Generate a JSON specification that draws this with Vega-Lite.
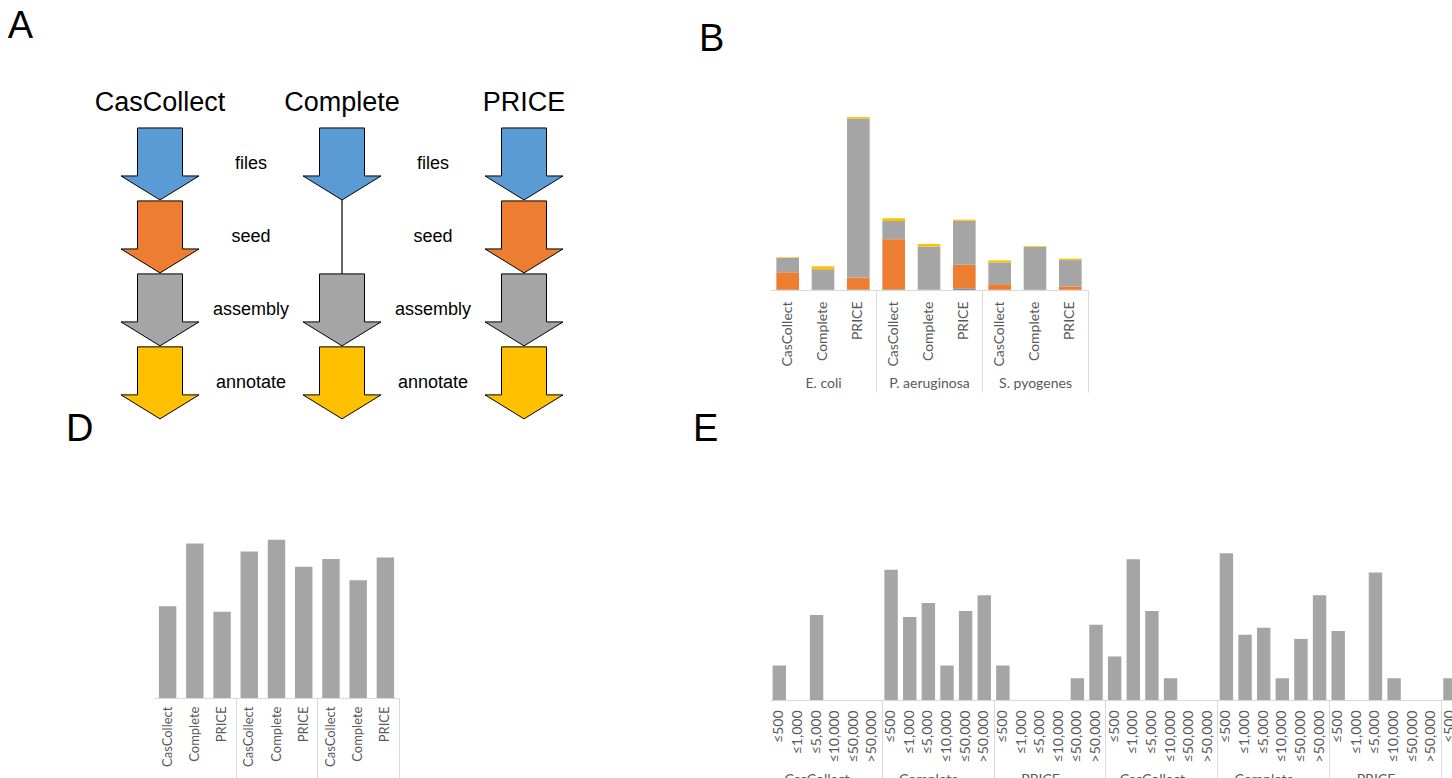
{
  "$schema": "https://vega.github.io/schema/vega-lite/v6.json",
  "padding": {"left": 7, "top": 7, "right": 0, "bottom": 0},
  "columns": 3,
  "bounds": "flush",
  "align": {"row": "each", "column": "none"},
  "spacing": {"row": 60, "column": 97},
  "config": {"view": {"stroke": null}},
  "concat": [
    {
      "width": 519,
      "height": 328,
      "title": {"text": "A", "dx": -87, "anchor": "start", "font": "Liberation Sans", "fontSize": 38, "fontWeight": "normal", "color": "#000000", "baseline": "alphabetic", "offset": 13},
      "layer": [
        {
          "data": {"values": [{"x": 2, "r": 1, "r2": 3}]},
          "mark": {"type": "rule", "color": "#000000", "strokeWidth": 1.2},
          "encoding": {
            "x": {"field": "x", "type": "quantitative", "scale": {"domain": [-0.066, 5.637], "nice": false, "zero": false}, "axis": null},
            "y": {"field": "r", "type": "quantitative", "scale": {"domain": [0.055, 4.55], "nice": false, "zero": false, "reverse": true}, "axis": null},
            "y2": {"field": "r2"}
          }
        },
        {
          "data": {"values": [
            {"x": 0, "r": 1, "st": "files"}, {"x": 0, "r": 2, "st": "seed"}, {"x": 0, "r": 3, "st": "assemble"}, {"x": 0, "r": 4, "st": "annotate"},
            {"x": 2, "r": 1, "st": "files"}, {"x": 2, "r": 3, "st": "assemble"}, {"x": 2, "r": 4, "st": "annotate"},
            {"x": 4, "r": 1, "st": "files"}, {"x": 4, "r": 2, "st": "seed"}, {"x": 4, "r": 3, "st": "assemble"}, {"x": 4, "r": 4, "st": "annotate"}
          ]},
          "mark": {"type": "point", "shape": "M-0.577,-0.923L0.577,-0.923L0.577,0.308L1,0.308L0,0.923L-1,0.308L-0.577,0.308Z", "size": 6084, "filled": true, "opacity": 1, "stroke": "#000000", "strokeWidth": 1},
          "encoding": {
            "x": {"field": "x", "type": "quantitative", "axis": null},
            "y": {"field": "r", "type": "quantitative", "axis": null},
            "fill": {"field": "st", "type": "nominal", "scale": {"domain": ["files", "seed", "assemble", "annotate"], "range": ["#5B9BD5", "#ED7D31", "#A5A5A5", "#FFC000"]}, "legend": null}
          }
        },
        {
          "data": {"values": [
            {"x": 1, "r": 1, "t": "files"}, {"x": 1, "r": 2, "t": "seed"}, {"x": 1, "r": 3, "t": "assembly"}, {"x": 1, "r": 4, "t": "annotate"},
            {"x": 3, "r": 1, "t": "files"}, {"x": 3, "r": 2, "t": "seed"}, {"x": 3, "r": 3, "t": "assembly"}, {"x": 3, "r": 4, "t": "annotate"}
          ]},
          "mark": {"type": "text", "font": "Liberation Sans", "fontSize": 18, "color": "#000000", "align": "center", "baseline": "middle"},
          "encoding": {
            "x": {"field": "x", "type": "quantitative", "axis": null},
            "y": {"field": "r", "type": "quantitative", "axis": null},
            "text": {"field": "t"}
          }
        },
        {
          "data": {"values": [
            {"x": 0, "r": 1, "t": "CasCollect"}, {"x": 2, "r": 1, "t": "Complete"}, {"x": 4, "r": 1, "t": "PRICE"}
          ]},
          "mark": {"type": "text", "font": "Liberation Sans", "fontSize": 27, "color": "#000000", "align": "center", "baseline": "middle", "dy": -61},
          "encoding": {
            "x": {"field": "x", "type": "quantitative", "axis": null},
            "y": {"field": "r", "type": "quantitative", "axis": null},
            "text": {"field": "t"}
          }
        }
      ]
    },
    {
      "width": 318,
      "height": 195,
      "title": {"text": "B", "dx": -71, "anchor": "start", "font": "Liberation Sans", "fontSize": 38, "fontWeight": "normal", "color": "#000000", "baseline": "alphabetic", "offset": 6},
      "data": {"values": [
        {"k": "E. coli|CasCollect", "s": "files", "i": 1, "h": 0.21},
        {"k": "E. coli|CasCollect", "s": "seed", "i": 2, "h": 12.5},
        {"k": "E. coli|CasCollect", "s": "assemble", "i": 3, "h": 10.4},
        {"k": "E. coli|CasCollect", "s": "annotate", "i": 4, "h": 0.4},
        {"k": "E. coli|Complete", "s": "files", "i": 1, "h": 0.15},
        {"k": "E. coli|Complete", "s": "seed", "i": 2, "h": 0},
        {"k": "E. coli|Complete", "s": "assemble", "i": 3, "h": 14.8},
        {"k": "E. coli|Complete", "s": "annotate", "i": 4, "h": 2.04},
        {"k": "E. coli|PRICE", "s": "files", "i": 1, "h": 0.25},
        {"k": "E. coli|PRICE", "s": "seed", "i": 2, "h": 8.7},
        {"k": "E. coli|PRICE", "s": "assemble", "i": 3, "h": 114.1},
        {"k": "E. coli|PRICE", "s": "annotate", "i": 4, "h": 1.1},
        {"k": "P. aeruginosa|CasCollect", "s": "files", "i": 1, "h": 0.41},
        {"k": "P. aeruginosa|CasCollect", "s": "seed", "i": 2, "h": 36.1},
        {"k": "P. aeruginosa|CasCollect", "s": "assemble", "i": 3, "h": 13.0},
        {"k": "P. aeruginosa|CasCollect", "s": "annotate", "i": 4, "h": 2.0},
        {"k": "P. aeruginosa|Complete", "s": "files", "i": 1, "h": 0.3},
        {"k": "P. aeruginosa|Complete", "s": "seed", "i": 2, "h": 0},
        {"k": "P. aeruginosa|Complete", "s": "assemble", "i": 3, "h": 31.0},
        {"k": "P. aeruginosa|Complete", "s": "annotate", "i": 4, "h": 1.7},
        {"k": "P. aeruginosa|PRICE", "s": "files", "i": 1, "h": 0.86},
        {"k": "P. aeruginosa|PRICE", "s": "seed", "i": 2, "h": 17.3},
        {"k": "P. aeruginosa|PRICE", "s": "assemble", "i": 3, "h": 31.5},
        {"k": "P. aeruginosa|PRICE", "s": "annotate", "i": 4, "h": 0.86},
        {"k": "S. pyogenes|CasCollect", "s": "files", "i": 1, "h": 0.17},
        {"k": "S. pyogenes|CasCollect", "s": "seed", "i": 2, "h": 4.0},
        {"k": "S. pyogenes|CasCollect", "s": "assemble", "i": 3, "h": 15.6},
        {"k": "S. pyogenes|CasCollect", "s": "annotate", "i": 4, "h": 1.5},
        {"k": "S. pyogenes|Complete", "s": "files", "i": 1, "h": 0.16},
        {"k": "S. pyogenes|Complete", "s": "seed", "i": 2, "h": 0},
        {"k": "S. pyogenes|Complete", "s": "assemble", "i": 3, "h": 30.7},
        {"k": "S. pyogenes|Complete", "s": "annotate", "i": 4, "h": 0.53},
        {"k": "S. pyogenes|PRICE", "s": "files", "i": 1, "h": 0.18},
        {"k": "S. pyogenes|PRICE", "s": "seed", "i": 2, "h": 2.4},
        {"k": "S. pyogenes|PRICE", "s": "assemble", "i": 3, "h": 18.9},
        {"k": "S. pyogenes|PRICE", "s": "annotate", "i": 4, "h": 1.0}
      ]},
      "resolve": {"axis": {"x": "independent"}},
      "layer": [
        {
          "mark": {"type": "bar", "width": {"band": 0.64}},
          "encoding": {
            "x": {"field": "k", "type": "nominal", "sort": null,
              "scale": {"domain": ["E. coli|CasCollect", "E. coli|Complete", "E. coli|PRICE", "P. aeruginosa|CasCollect", "P. aeruginosa|Complete", "P. aeruginosa|PRICE", "S. pyogenes|CasCollect", "S. pyogenes|Complete", "S. pyogenes|PRICE"], "paddingInner": 0, "paddingOuter": 0},
              "axis": {"orient": "bottom", "title": null, "labelAngle": -90, "labelExpr": "split(datum.value, '|')[1]", "ticks": false, "labelPadding": 11, "labelFontSize": 14, "labelFont": "Lato", "labelColor": "#595959", "domainColor": "#D9D9D9"}},
            "y": {"field": "h", "type": "quantitative", "stack": "zero", "scale": {"domain": [0, 140], "nice": false},
              "axis": {"title": "Time (hours)", "values": [0, 20, 40, 60, 80, 100, 120, 140], "ticks": false, "domain": false, "grid": true, "gridColor": "#D9D9D9", "labelPadding": 14, "labelFontSize": 14, "labelFont": "Lato", "labelColor": "#595959", "titleFont": "Lato", "titleColor": "#595959", "titleFontWeight": "normal", "titleFontSize": 17, "titlePadding": 8}},
            "color": {"field": "s", "type": "nominal", "scale": {"domain": ["files", "seed", "assemble", "annotate"], "range": ["#5B9BD5", "#ED7D31", "#A5A5A5", "#FFC000"]},
              "legend": {"title": null, "orient": "none", "legendX": 617, "legendY": 314, "direction": "horizontal", "symbolType": "square", "symbolSize": 70, "symbolStrokeWidth": 0, "labelFontSize": 14, "labelFont": "Lato", "labelColor": "#595959", "columnPadding": 14, "labelOffset": 5, "padding": 0}},
            "order": {"field": "i", "type": "quantitative"}
          }
        },
        {
          "mark": {"type": "point", "opacity": 0},
          "encoding": {
            "x": {"field": "k", "type": "nominal", "sort": null,
              "axis": {"orient": "bottom", "title": null, "values": ["E. coli|Complete", "P. aeruginosa|Complete", "S. pyogenes|Complete"], "labelExpr": "split(datum.value, '|')[0]", "labelAngle": 0, "ticks": true, "tickSize": 102, "tickColor": "#D9D9D9", "tickOffset": 53, "labelOffset": -53, "domain": false, "labelPadding": -16, "labelFontSize": 14, "labelFont": "Lato", "labelColor": "#595959"}},
            "y": {"datum": 0, "type": "quantitative", "axis": null}
          }
        }
      ]
    },
    {
      "width": 317,
      "height": 195,
      "title": {"text": "C", "dx": -74, "anchor": "start", "font": "Liberation Sans", "fontSize": 38, "fontWeight": "normal", "color": "#000000", "baseline": "alphabetic", "offset": 6},
      "data": {"values": [
        {"k": "E. coli|CasCollect", "s": "files", "i": 1, "h": 0.21},
        {"k": "E. coli|CasCollect", "s": "seed", "i": 2, "h": 12.5},
        {"k": "E. coli|CasCollect", "s": "assemble", "i": 3, "h": 10.4},
        {"k": "E. coli|CasCollect", "s": "annotate", "i": 4, "h": 0.4},
        {"k": "E. coli|Complete", "s": "files", "i": 1, "h": 0.15},
        {"k": "E. coli|Complete", "s": "seed", "i": 2, "h": 0},
        {"k": "E. coli|Complete", "s": "assemble", "i": 3, "h": 14.8},
        {"k": "E. coli|Complete", "s": "annotate", "i": 4, "h": 2.04},
        {"k": "E. coli|PRICE", "s": "files", "i": 1, "h": 0.25},
        {"k": "E. coli|PRICE", "s": "seed", "i": 2, "h": 8.7},
        {"k": "E. coli|PRICE", "s": "assemble", "i": 3, "h": 114.1},
        {"k": "E. coli|PRICE", "s": "annotate", "i": 4, "h": 1.1},
        {"k": "P. aeruginosa|CasCollect", "s": "files", "i": 1, "h": 0.41},
        {"k": "P. aeruginosa|CasCollect", "s": "seed", "i": 2, "h": 36.1},
        {"k": "P. aeruginosa|CasCollect", "s": "assemble", "i": 3, "h": 13.0},
        {"k": "P. aeruginosa|CasCollect", "s": "annotate", "i": 4, "h": 2.0},
        {"k": "P. aeruginosa|Complete", "s": "files", "i": 1, "h": 0.3},
        {"k": "P. aeruginosa|Complete", "s": "seed", "i": 2, "h": 0},
        {"k": "P. aeruginosa|Complete", "s": "assemble", "i": 3, "h": 31.0},
        {"k": "P. aeruginosa|Complete", "s": "annotate", "i": 4, "h": 1.7},
        {"k": "P. aeruginosa|PRICE", "s": "files", "i": 1, "h": 0.86},
        {"k": "P. aeruginosa|PRICE", "s": "seed", "i": 2, "h": 17.3},
        {"k": "P. aeruginosa|PRICE", "s": "assemble", "i": 3, "h": 31.5},
        {"k": "P. aeruginosa|PRICE", "s": "annotate", "i": 4, "h": 0.86},
        {"k": "S. pyogenes|CasCollect", "s": "files", "i": 1, "h": 0.17},
        {"k": "S. pyogenes|CasCollect", "s": "seed", "i": 2, "h": 4.0},
        {"k": "S. pyogenes|CasCollect", "s": "assemble", "i": 3, "h": 15.6},
        {"k": "S. pyogenes|CasCollect", "s": "annotate", "i": 4, "h": 1.5},
        {"k": "S. pyogenes|Complete", "s": "files", "i": 1, "h": 0.16},
        {"k": "S. pyogenes|Complete", "s": "seed", "i": 2, "h": 0},
        {"k": "S. pyogenes|Complete", "s": "assemble", "i": 3, "h": 30.7},
        {"k": "S. pyogenes|Complete", "s": "annotate", "i": 4, "h": 0.53},
        {"k": "S. pyogenes|PRICE", "s": "files", "i": 1, "h": 0.18},
        {"k": "S. pyogenes|PRICE", "s": "seed", "i": 2, "h": 2.4},
        {"k": "S. pyogenes|PRICE", "s": "assemble", "i": 3, "h": 18.9},
        {"k": "S. pyogenes|PRICE", "s": "annotate", "i": 4, "h": 1.0}
      ]},
      "resolve": {"axis": {"x": "independent"}},
      "layer": [
        {
          "mark": {"type": "bar", "width": {"band": 0.64}},
          "encoding": {
            "x": {"field": "k", "type": "nominal", "sort": null,
              "scale": {"domain": ["E. coli|CasCollect", "E. coli|Complete", "E. coli|PRICE", "P. aeruginosa|CasCollect", "P. aeruginosa|Complete", "P. aeruginosa|PRICE", "S. pyogenes|CasCollect", "S. pyogenes|Complete", "S. pyogenes|PRICE"], "paddingInner": 0, "paddingOuter": 0},
              "axis": {"orient": "bottom", "title": null, "labelAngle": -90, "labelExpr": "split(datum.value, '|')[1]", "ticks": false, "labelPadding": 11, "labelFontSize": 14, "labelFont": "Lato", "labelColor": "#595959", "domainColor": "#D9D9D9"}},
            "y": {"field": "h", "type": "quantitative", "stack": "normalize", "scale": {"domain": [0, 1], "nice": false},
              "axis": {"title": "% Time", "values": [0, 0.1, 0.2, 0.3, 0.4, 0.5, 0.6, 0.7, 0.8, 0.9, 1], "labelExpr": "round(datum.value * 100)", "ticks": false, "domain": false, "grid": true, "gridColor": "#D9D9D9", "labelPadding": 14, "labelFontSize": 14, "labelFont": "Lato", "labelColor": "#595959", "titleFont": "Lato", "titleColor": "#595959", "titleFontWeight": "normal", "titleFontSize": 17, "titlePadding": 9}},
            "fill": {"field": "s", "type": "nominal", "scale": {"domain": ["files", "seed", "assemble", "annotate"], "range": ["#5B9BD5", "#ED7D31", "#A5A5A5", "#FFC000"]},
              "legend": {"title": null, "orient": "none", "legendX": 1030, "legendY": 314, "direction": "horizontal", "symbolType": "square", "symbolSize": 70, "symbolStrokeWidth": 0, "labelFontSize": 14, "labelFont": "Lato", "labelColor": "#595959", "columnPadding": 14, "labelOffset": 5, "padding": 0}},
            "order": {"field": "i", "type": "quantitative"}
          }
        },
        {
          "mark": {"type": "point", "opacity": 0},
          "encoding": {
            "x": {"field": "k", "type": "nominal", "sort": null,
              "axis": {"orient": "bottom", "title": null, "values": ["E. coli|Complete", "P. aeruginosa|Complete", "S. pyogenes|Complete"], "labelExpr": "split(datum.value, '|')[0]", "labelAngle": 0, "ticks": true, "tickSize": 102, "tickColor": "#D9D9D9", "tickOffset": 52.8, "labelOffset": -52.8, "domain": false, "labelPadding": -16, "labelFontSize": 14, "labelFont": "Lato", "labelColor": "#595959"}},
            "y": {"datum": 0, "type": "quantitative", "axis": null}
          }
        }
      ]
    },
    {
      "width": 245,
      "height": 215,
      "title": {"text": "D", "dx": -88, "anchor": "start", "font": "Liberation Sans", "fontSize": 38, "fontWeight": "normal", "color": "#000000", "baseline": "alphabetic", "offset": 4},
      "data": {"values": [
        {"k": "E. coli|CasCollect", "n": 19},
        {"k": "E. coli|Complete", "n": 143},
        {"k": "E. coli|PRICE", "n": 16},
        {"k": "P. aeruginosa|CasCollect", "n": 111},
        {"k": "P. aeruginosa|Complete", "n": 161},
        {"k": "P. aeruginosa|PRICE", "n": 68},
        {"k": "S. pyogenes|CasCollect", "n": 87},
        {"k": "S. pyogenes|Complete", "n": 44},
        {"k": "S. pyogenes|PRICE", "n": 91}
      ]},
      "resolve": {"axis": {"x": "independent"}},
      "layer": [
        {
          "mark": {"type": "bar", "width": {"band": 0.64}, "color": "#A5A5A5"},
          "encoding": {
            "x": {"field": "k", "type": "nominal", "sort": null,
              "scale": {"domain": ["E. coli|CasCollect", "E. coli|Complete", "E. coli|PRICE", "P. aeruginosa|CasCollect", "P. aeruginosa|Complete", "P. aeruginosa|PRICE", "S. pyogenes|CasCollect", "S. pyogenes|Complete", "S. pyogenes|PRICE"], "paddingInner": 0, "paddingOuter": 0},
              "axis": {"orient": "bottom", "title": null, "labelAngle": -90, "labelExpr": "split(datum.value, '|')[1]", "ticks": false, "labelPadding": 8, "labelFontSize": 13, "labelFont": "Lato", "labelColor": "#595959", "domainColor": "#D9D9D9"}},
            "y": {"field": "n", "type": "quantitative", "scale": {"type": "log", "domain": [1, 1000], "nice": false},
              "axis": {"title": "Contigs", "values": [1, 10, 100, 1000], "format": ",", "ticks": false, "domain": false, "grid": true, "gridColor": "#D9D9D9", "labelPadding": 15, "labelFontSize": 14, "labelFont": "Lato", "labelColor": "#595959", "titleFont": "Lato", "titleColor": "#595959", "titleFontWeight": "normal", "titleFontSize": 17, "titlePadding": 6}},
            "y2": {"datum": 1}
          }
        },
        {
          "mark": {"type": "point", "opacity": 0},
          "encoding": {
            "x": {"field": "k", "type": "nominal", "sort": null,
              "axis": {"orient": "bottom", "title": null, "values": ["E. coli|Complete", "P. aeruginosa|Complete", "S. pyogenes|Complete"], "labelExpr": "split(datum.value, '|')[0] == 'P. aeruginosa' ? ['P.', 'aeruginosa'] : split(datum.value, '|')[0]", "labelAngle": 0, "ticks": true, "tickSize": 118, "tickColor": "#D9D9D9", "tickOffset": 40.8, "labelOffset": -40.8, "domain": false, "labelPadding": -32, "labelFontSize": 13, "labelLineHeight": 19, "labelFont": "Lato", "labelColor": "#595959"}},
            "y": {"datum": 1, "type": "quantitative", "axis": null}
          }
        }
      ]
    },
    {
      "width": 1006,
      "height": 217,
      "title": {"text": "E", "dx": -77, "anchor": "start", "font": "Liberation Sans", "fontSize": 38, "fontWeight": "normal", "color": "#000000", "baseline": "alphabetic", "offset": 4},
      "data": {"values": [
        {"k": "E. coli|CasCollect|≤500", "n": 3},
        {"k": "E. coli|CasCollect|≤5,000", "n": 15},
        {"k": "E. coli|Complete|≤500", "n": 63},
        {"k": "E. coli|Complete|≤1,000", "n": 14},
        {"k": "E. coli|Complete|≤5,000", "n": 22},
        {"k": "E. coli|Complete|≤10,000", "n": 3},
        {"k": "E. coli|Complete|≤50,000", "n": 17},
        {"k": "E. coli|Complete|>50,000", "n": 28},
        {"k": "E. coli|PRICE|≤500", "n": 3},
        {"k": "E. coli|PRICE|≤50,000", "n": 2},
        {"k": "E. coli|PRICE|>50,000", "n": 11},
        {"k": "P. aeruginosa|CasCollect|≤500", "n": 4},
        {"k": "P. aeruginosa|CasCollect|≤1,000", "n": 88},
        {"k": "P. aeruginosa|CasCollect|≤5,000", "n": 17},
        {"k": "P. aeruginosa|CasCollect|≤10,000", "n": 2},
        {"k": "P. aeruginosa|Complete|≤500", "n": 107},
        {"k": "P. aeruginosa|Complete|≤1,000", "n": 8},
        {"k": "P. aeruginosa|Complete|≤5,000", "n": 10},
        {"k": "P. aeruginosa|Complete|≤10,000", "n": 2},
        {"k": "P. aeruginosa|Complete|≤50,000", "n": 7},
        {"k": "P. aeruginosa|Complete|>50,000", "n": 28},
        {"k": "P. aeruginosa|PRICE|≤500", "n": 9},
        {"k": "P. aeruginosa|PRICE|≤5,000", "n": 58},
        {"k": "P. aeruginosa|PRICE|≤10,000", "n": 2},
        {"k": "S. pyogenes|CasCollect|≤500", "n": 2},
        {"k": "S. pyogenes|CasCollect|≤1,000", "n": 4},
        {"k": "S. pyogenes|CasCollect|≤5,000", "n": 81},
        {"k": "S. pyogenes|CasCollect|≤10,000", "n": 4},
        {"k": "S. pyogenes|Complete|≤500", "n": 23},
        {"k": "S. pyogenes|Complete|≤1,000", "n": 5},
        {"k": "S. pyogenes|Complete|≤10,000", "n": 2},
        {"k": "S. pyogenes|Complete|≤50,000", "n": 5},
        {"k": "S. pyogenes|Complete|>50,000", "n": 8},
        {"k": "S. pyogenes|PRICE|≤500", "n": 12},
        {"k": "S. pyogenes|PRICE|≤5,000", "n": 42},
        {"k": "S. pyogenes|PRICE|≤10,000", "n": 35}
      ]},
      "resolve": {"axis": {"x": "independent"}},
      "layer": [
        {
          "mark": {"type": "bar", "width": {"band": 0.72}, "color": "#A5A5A5"},
          "encoding": {
            "x": {"field": "k", "type": "nominal", "sort": null,
              "scale": {"domain": [
                "E. coli|CasCollect|≤500", "E. coli|CasCollect|≤1,000", "E. coli|CasCollect|≤5,000", "E. coli|CasCollect|≤10,000", "E. coli|CasCollect|≤50,000", "E. coli|CasCollect|>50,000",
                "E. coli|Complete|≤500", "E. coli|Complete|≤1,000", "E. coli|Complete|≤5,000", "E. coli|Complete|≤10,000", "E. coli|Complete|≤50,000", "E. coli|Complete|>50,000",
                "E. coli|PRICE|≤500", "E. coli|PRICE|≤1,000", "E. coli|PRICE|≤5,000", "E. coli|PRICE|≤10,000", "E. coli|PRICE|≤50,000", "E. coli|PRICE|>50,000",
                "P. aeruginosa|CasCollect|≤500", "P. aeruginosa|CasCollect|≤1,000", "P. aeruginosa|CasCollect|≤5,000", "P. aeruginosa|CasCollect|≤10,000", "P. aeruginosa|CasCollect|≤50,000", "P. aeruginosa|CasCollect|>50,000",
                "P. aeruginosa|Complete|≤500", "P. aeruginosa|Complete|≤1,000", "P. aeruginosa|Complete|≤5,000", "P. aeruginosa|Complete|≤10,000", "P. aeruginosa|Complete|≤50,000", "P. aeruginosa|Complete|>50,000",
                "P. aeruginosa|PRICE|≤500", "P. aeruginosa|PRICE|≤1,000", "P. aeruginosa|PRICE|≤5,000", "P. aeruginosa|PRICE|≤10,000", "P. aeruginosa|PRICE|≤50,000", "P. aeruginosa|PRICE|>50,000",
                "S. pyogenes|CasCollect|≤500", "S. pyogenes|CasCollect|≤1,000", "S. pyogenes|CasCollect|≤5,000", "S. pyogenes|CasCollect|≤10,000", "S. pyogenes|CasCollect|≤50,000", "S. pyogenes|CasCollect|>50,000",
                "S. pyogenes|Complete|≤500", "S. pyogenes|Complete|≤1,000", "S. pyogenes|Complete|≤5,000", "S. pyogenes|Complete|≤10,000", "S. pyogenes|Complete|≤50,000", "S. pyogenes|Complete|>50,000",
                "S. pyogenes|PRICE|≤500", "S. pyogenes|PRICE|≤1,000", "S. pyogenes|PRICE|≤5,000", "S. pyogenes|PRICE|≤10,000", "S. pyogenes|PRICE|≤50,000", "S. pyogenes|PRICE|>50,000"
              ], "paddingInner": 0, "paddingOuter": 0},
              "axis": {"orient": "bottom", "title": null, "labelAngle": -90, "labelExpr": "split(datum.value, '|')[2]", "ticks": false, "labelPadding": 10, "labelFontSize": 14, "labelFont": "Lato", "labelColor": "#595959", "domainColor": "#D9D9D9"}},
            "y": {"field": "n", "type": "quantitative", "scale": {"type": "log", "domain": [1, 1000], "nice": false},
              "axis": {"title": null, "values": [1, 10, 100, 1000], "format": ",", "ticks": false, "domain": false, "grid": true, "gridColor": "#D9D9D9", "labelPadding": 14, "labelFontSize": 14, "labelFont": "Lato", "labelColor": "#595959"}},
            "y2": {"datum": 1}
          }
        },
        {
          "mark": {"type": "point", "opacity": 0},
          "encoding": {
            "x": {"field": "k", "type": "nominal", "sort": null,
              "axis": {"orient": "bottom", "title": null, "values": ["E. coli|CasCollect|≤5,000", "E. coli|Complete|≤5,000", "E. coli|PRICE|≤5,000", "P. aeruginosa|CasCollect|≤5,000", "P. aeruginosa|Complete|≤5,000", "P. aeruginosa|PRICE|≤5,000", "S. pyogenes|CasCollect|≤5,000", "S. pyogenes|Complete|≤5,000", "S. pyogenes|PRICE|≤5,000"], "bandPosition": 1, "labelExpr": "split(datum.value, '|')[1] == 'Complete' ? ['Complete', split(datum.value, '|')[0]] : split(datum.value, '|')[1]", "labelAngle": 0, "ticks": true, "tickSize": 90, "tickColor": "#D9D9D9", "tickOffset": 55.9, "labelOffset": -55.9, "domain": false, "labelPadding": -18, "labelFontSize": 14, "labelLineHeight": 29, "labelFont": "Lato", "labelColor": "#595959"}},
            "y": {"datum": 1, "type": "quantitative", "axis": null}
          }
        }
      ]
    }
  ]
}
